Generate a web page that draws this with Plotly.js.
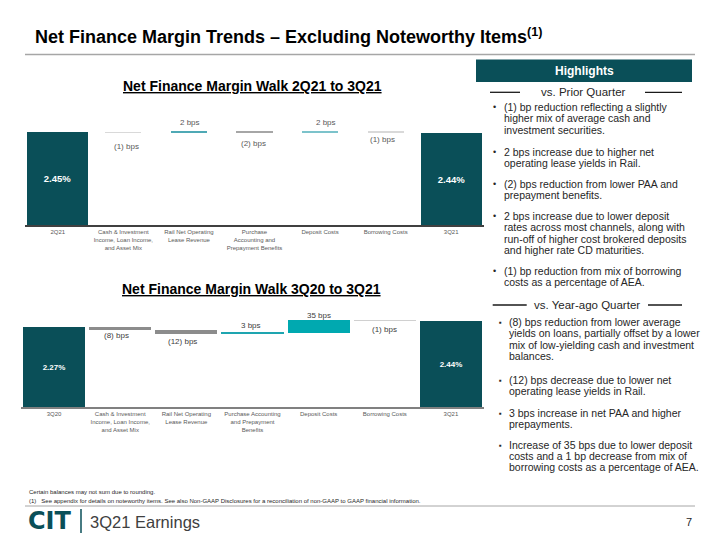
<!DOCTYPE html>
<html><head><meta charset="utf-8">
<script src="https://cdn.plot.ly/plotly-3.0.1.min.js"></script>
<style>html,body{margin:0;padding:0;background:#fff;}#chart{width:720px;height:540px;}</style>
</head><body><div id="chart"></div>
<script>
// ---------------- DATA ----------------
const walk1Title = "Net Finance Margin Walk 2Q21 to 3Q21";
const walk1Categories = ["2Q21", "Cash & Investment<br>Income, Loan Income,<br>and Asset Mix", "Rail Net Operating<br>Lease Revenue", "Purchase<br>Accounting and<br>Prepayment Benefits", "Deposit Costs", "Borrowing Costs", "3Q21"];
const walk1StartPct = 2.45;
const walk1DeltaBps = [-1, 2, -2, 2, -1];
const walk1EndPct = 2.44;
const walk1DeltaLabels = ["(1) bps", "2 bps", "(2) bps", "2 bps", "(1) bps"];

const walk2Title = "Net Finance Margin Walk 3Q20 to 3Q21";
const walk2Categories = ["3Q20", "Cash & Investment<br>Income, Loan Income,<br>and Asset Mix", "Rail Net Operating<br>Lease Revenue", "Purchase Accounting<br>and Prepayment<br>Benefits", "Deposit Costs", "Borrowing Costs", "3Q21"];
const walk2StartPct = 2.27;
const walk2DeltaBps = [-8, -12, 3, 35, -1];
const walk2EndPct = 2.44;
const walk2DeltaLabels = ["(8) bps", "(12) bps", "3 bps", "35 bps", "(1) bps"];

const priorQuarterBullets = [
  ["(1) bp reduction reflecting a slightly", "higher mix of average cash and", "investment securities."],
  ["2 bps increase due to higher net", "operating lease yields in Rail."],
  ["(2) bps reduction from lower PAA and", "prepayment benefits."],
  ["2 bps increase due to lower deposit", "rates across most channels, along with", "run-off of higher cost brokered deposits", "and higher rate CD maturities."],
  ["(1) bp reduction from mix of borrowing", "costs as a percentage of AEA."]
];
const yearAgoBullets = [
  ["(8) bps reduction from lower average", "yields on loans, partially offset by a lower", "mix of low-yielding cash and investment", "balances."],
  ["(12) bps decrease due to lower net", "operating lease yields in Rail."],
  ["3 bps increase in net PAA and higher", "prepayments."],
  ["Increase of 35 bps due to lower deposit", "costs and a 1 bp decrease from mix of", "borrowing costs as a percentage of AEA."]
];
const footnotes = ["Certain balances may not sum due to rounding.", "(1)\u00a0\u00a0\u00a0See appendix for details on noteworthy items. See also Non-GAAP Disclosures for a reconciliation of non-GAAP to GAAP financial information."];

// ---------------- STYLE ----------------
const FONT = 'Liberation Sans, Arial, Helvetica, sans-serif';
const TOTAL = '#0a4f58';
const W = 720, H = 540;
const px = v => v / W;
const py = v => 1 - v / H;

function note(text, x, y, opts) {
  return Object.assign({xref:'paper', yref:'paper', x:px(x), y:py(y), text:text, showarrow:false,
    xanchor:'left', yanchor:'middle', font:{family:FONT, size:10.5, color:'#262626'}}, opts || {});
}

function buildWalk(cats, startPct, deltaBps, endPct, deltaColors, widths, xa, ya, textSize, labels, offs, xshifts, labelColor) {
  const y = [startPct], base = [0];
  let level = startPct;
  const segs = [];
  deltaBps.forEach(b => {
    const v = b / 100;
    base.push(level); y.push(v);
    segs.push({lo: Math.min(level, level + v), hi: Math.max(level, level + v), up: v > 0});
    level += v;
  });
  y.push(endPct); base.push(0);
  const text = [startPct.toFixed(2) + '%'].concat(deltaBps.map(() => ''), [endPct.toFixed(2) + '%']);
  const trace = {type:'bar', x:cats, y:y, base:base, width:widths,
    marker:{color:[TOTAL].concat(deltaColors, [TOTAL])},
    text:text, textposition:'inside', insidetextanchor:'middle', textangle:0, constraintext:'none',
    textfont:{family:FONT, size:textSize, color:'#ffffff', weight:'bold'},
    xaxis:xa, yaxis:ya, hoverinfo:'skip', showlegend:false, cliponaxis:false};
  const anns = segs.map((s, i) => ({xref:xa, yref:ya, x:cats[i + 1], y: s.up ? s.hi : s.lo,
    yshift: s.up ? offs[i] : -offs[i], xshift: xshifts[i], text: labels[i], showarrow:false,
    xanchor:'center', yanchor:'middle', font:{family:FONT, size:8, color:labelColor}}));
  return {trace, anns};
}

const w1 = buildWalk(walk1Categories, walk1StartPct, walk1DeltaBps, walk1EndPct,
  ['#d9d9d9', '#4fa9b5', '#a6a6a6', '#7cc3cb', '#d9d9d9'],
  [0.93, 0.55, 0.55, 0.55, 0.55, 0.55, 0.93], 'x', 'y', 9.5, walk1DeltaLabels,
  [13.5, 9.5, 11, 9.5, 7], [3.5, 1, -1.5, 6, -3], '#595959');
const w2 = buildWalk(walk2Categories, walk2StartPct, walk2DeltaBps, walk2EndPct,
  ['#8c8c8c', '#8c8c8c', '#1ea5b0', '#00a9b0', '#d0d0d0'],
  [0.94, 0.94, 0.94, 0.94, 0.94, 0.94, 0.94], 'x2', 'y2', 8, walk2DeltaLabels,
  [5.5, 7.5, 7, 5.5, 8.5], [-4, -3.5, -2, 0, 0], '#404040');

const annotations = [].concat(w1.anns, w2.anns);

// chart titles
annotations.push(note('<b><u>' + walk1Title + '</u></b>', 253, 85.7, {xanchor:'center', font:{family:FONT, size:14, color:'#000'}}));
annotations.push(note('<b><u>' + walk2Title + '</u></b>', 252, 289, {xanchor:'center', font:{family:FONT, size:14, color:'#000'}}));

// highlights panel
annotations.push(note('<b>Highlights</b>', 584, 71, {xanchor:'center', font:{family:FONT, size:12, color:'#ffffff'}}));
annotations.push(note('vs. Prior Quarter', 583, 92.3, {xanchor:'center', font:{family:FONT, size:11.5, color:'#262626'}}));
annotations.push(note('vs. Year-ago Quarter', 587, 305, {xanchor:'center', font:{family:FONT, size:11.5, color:'#262626'}}));

function addBullets(blocks, starts, bulletX, textX, glyph, glyphSize) {
  blocks.forEach((lines, b) => {
    annotations.push(note(glyph, bulletX, starts[b], {xanchor:'center', font:{family:FONT, size:glyphSize, color:'#262626'}}));
    lines.forEach((ln, j) => annotations.push(note(ln, textX, starts[b] + j * 11.1)));
  });
}
addBullets(priorQuarterBullets, [107.3, 151.7, 184, 216.3, 270.7], 494.5, 501.7, '•', 9);
addBullets(yearAgoBullets, [322.3, 380, 413.3, 445], 500.5, 506.7, '▪', 8);

// footer
annotations.push(note(footnotes[0], 27, 492, {font:{family:FONT, size:6, color:'#262626'}}));
annotations.push(note(footnotes[1], 27, 500.5, {font:{family:FONT, size:6, color:'#262626'}}));
annotations.push(note('<b>CIT</b>', 26, 521, {font:{family:'DejaVu Sans, ' + FONT, size:24, color:TOTAL}}));
annotations.push(note('3Q21 Earnings', 88, 521.5, {font:{family:FONT, size:16.5, color:'#404040'}}));
annotations.push(note('7', 694, 521.5, {xanchor:'right', font:{family:FONT, size:11, color:'#262626'}}));

const line = (x0, y0, x1, y1, color, width) => ({type:'line', xref:'paper', yref:'paper',
  x0:px(x0), y0:py(y0), x1:px(x1), y1:py(y1), line:{color:color, width:width}});
const shapes = [
  line(25, 54.5, 695, 54.5, '#a6a6a6', 1.5),
  {type:'rect', xref:'paper', yref:'paper', x0:px(476), x1:px(692), y0:py(59.5), y1:py(82), fillcolor:TOTAL, line:{width:0}},
  line(490, 92.3, 520, 92.3, '#1a1a1a', 1.3),
  line(645, 92.3, 682, 92.3, '#1a1a1a', 1.3),
  line(492.7, 305, 526.7, 305, '#1a1a1a', 1.3),
  line(648, 305, 682, 305, '#1a1a1a', 1.3),
  line(25, 506, 695, 506, '#a6a6a6', 1),
  line(81, 509, 81, 533, TOTAL, 1.5)
];

const axX = (d0, d1, lc) => ({domain:[px(d0), px(d1)], type:'category', range:[-0.5, 6.5], showline:true,
  linecolor:lc, linewidth:2, ticks:'', showgrid:false, zeroline:false, fixedrange:true,
  tickfont:{family:FONT, size:6, color:'#595959'}});
const axY = (bottom, top) => ({domain:[py(bottom), py(top)], range:[0, 2.8], visible:false, fixedrange:true});

const layout = {
  width:W, height:H, margin:{l:0, r:0, t:0, b:0}, paper_bgcolor:'#fff', plot_bgcolor:'rgba(0,0,0,0)',
  font:{family:FONT},
  title:{text:'<b>Net Finance Margin Trends – Excluding Noteworthy Items<sup>(1)</sup></b>', x:px(35), xanchor:'left',
    y:py(37), yanchor:'middle', xref:'paper', yref:'paper', font:{family:FONT, size:18, color:'#000'}},
  xaxis:Object.assign(axX(25, 484, '#404040'), {anchor:'y'}),
  yaxis:axY(225, 119.1),
  xaxis2:Object.assign(axX(21, 484, '#808080'), {anchor:'y2'}),
  yaxis2:axY(407, 308.2),
  bargap:0, showlegend:false, annotations:annotations, shapes:shapes
};

Plotly.newPlot('chart', [w1.trace, w2.trace], layout, {displayModeBar:false, responsive:false});
</script>
</body></html>
